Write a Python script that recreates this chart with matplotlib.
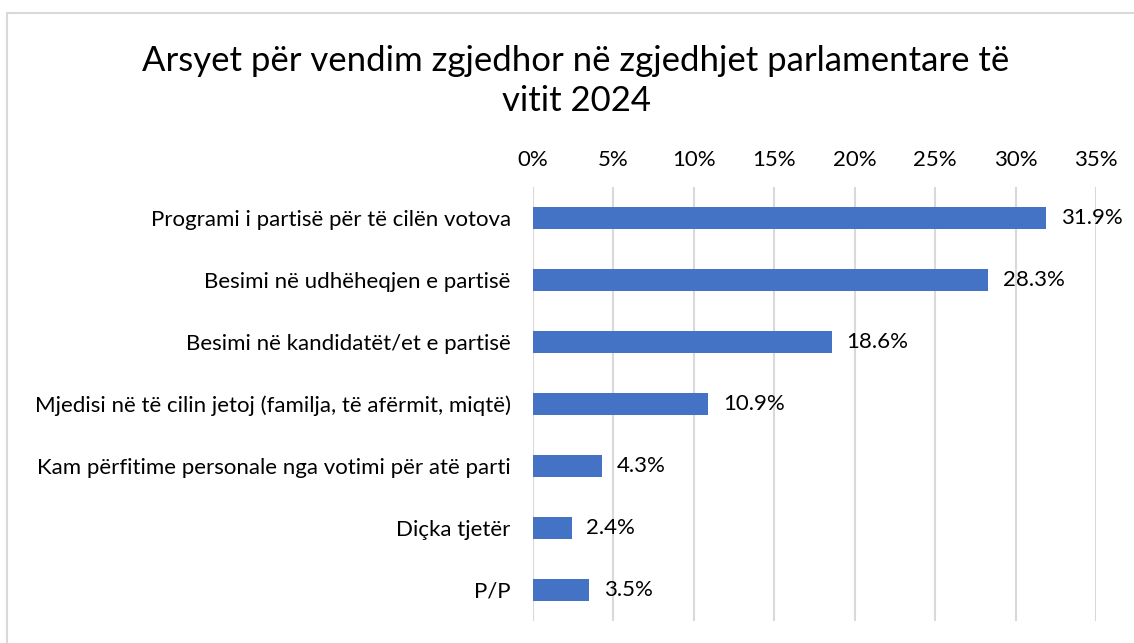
import matplotlib
matplotlib.use("Agg")
import matplotlib.pyplot as plt
from matplotlib.patches import Rectangle

categories = [
    "Programi i partisë për të cilën votova",
    "Besimi në udhëheqjen e partisë",
    "Besimi në kandidatët/et e partisë",
    "Mjedisi në të cilin jetoj (familja, të afërmit, miqtë)",
    "Kam përfitime personale nga votimi për atë parti",
    "Diçka tjetër",
    "P/P",
]
values = [31.9, 28.3, 18.6, 10.9, 4.3, 2.4, 3.5]
xticks = [0, 5, 10, 15, 20, 25, 30, 35]
title = "Arsyet për vendim zgjedhor në zgjedhjet parlamentare të\nvitit 2024"

plt.rcParams['font.family'] = ['Lato', 'DejaVu Sans']

fig = plt.figure(figsize=(11.34, 6.43), dpi=100)
fig.patches.append(Rectangle((7/1134, -0.1), 1.2, 1 - 13/643 + 0.1, transform=fig.transFigure,
                             fill=False, edgecolor='#D9D9D9', linewidth=1.5))
ax = fig.add_axes([533/1134, 1 - 621/643, (1096 - 533)/1134, (621 - 187)/643])

y = list(range(len(categories)))
ax.barh(y, values, height=0.36, color='#4472C4', zorder=3)
for yi, v in zip(y, values):
    ax.text(v + 0.9, yi, f"{v:.1f}%", va='center', ha='left', fontsize=16, color='#000000')

ax.set_xlim(0, 35)
ax.set_ylim(len(categories) - 0.5, -0.5)
ax.set_yticks(y)
ax.set_yticklabels(categories, fontsize=16)
ax.set_xticks(xticks)
ax.set_xticklabels([f"{t}%" for t in xticks], fontsize=16)
ax.xaxis.tick_top()
ax.tick_params(axis='both', length=0)
ax.tick_params(axis='x', pad=12)
ax.tick_params(axis='y', pad=16)
ax.grid(axis='x', color='#D9D9D9', linewidth=1.5, zorder=0)
for s in ax.spines.values():
    s.set_visible(False)

fig.text(576/1134, 1 - 81/643, title, ha='center', va='center', fontsize=25,
         linespacing=1.3, color='#000000')

fig.savefig("out.png", dpi=100)
